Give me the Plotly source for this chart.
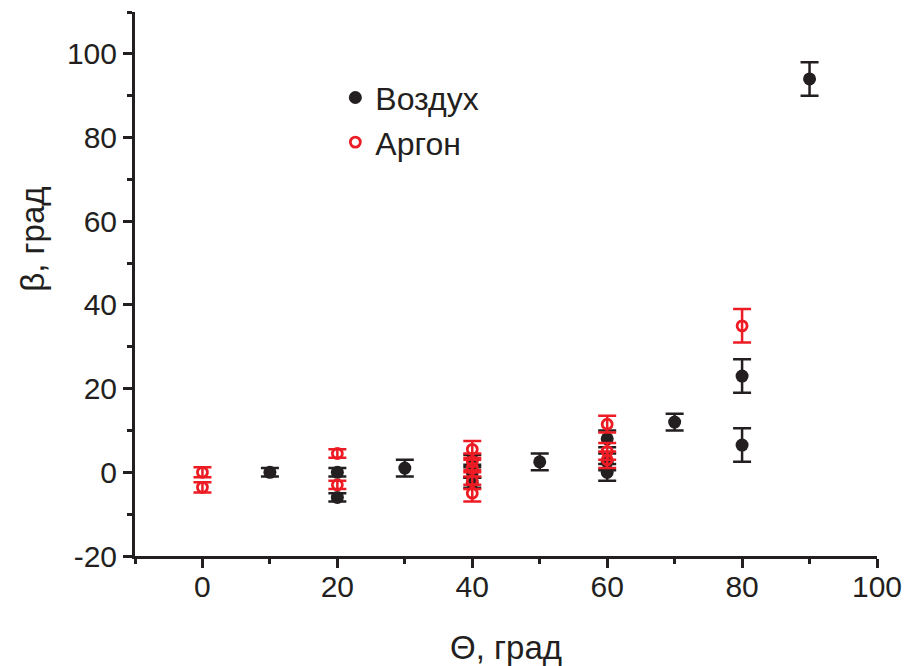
import plotly.graph_objects as go

# Воздух (air)
air_theta = [10, 20, 20, 30, 40, 40, 40, 50, 60, 60, 60, 70, 80, 80, 90]
air_beta = [0, 0, -6, 1, 3, 0, -2.5, 2.5, 8, 2.5, 0, 12, 23, 6.5, 94]
air_err = [1, 1, 1, 2, 1.2, 1.2, 1.2, 2, 2, 2, 2, 2, 4, 4, 4]

# Аргон (argon)
ar_theta = [0, 0, 20, 20, 40, 40, 40, 40, 40, 60, 60, 60, 80]
ar_beta = [0, -3.6, 4.5, -3, 5.5, 2.5, 1, -2, -5, 11.5, 5, 3, 35]
ar_err = [1.2, 1.2, 1, 1, 2, 2, 2, 2, 2, 2, 2, 2, 4]

x_ticks = [0, 20, 40, 60, 80, 100]
y_ticks = [-20, 0, 20, 40, 60, 80, 100]

FONT = "Liberation Sans, Arial, sans-serif"
INK = "#231f20"

fig = go.Figure()
fig.add_trace(go.Scatter(
    x=air_theta, y=air_beta, mode="markers", name="Воздух",
    marker=dict(symbol="circle", size=13, color=INK),
    error_y=dict(type="data", array=air_err, visible=True, color=INK,
                 thickness=2.5, width=9),
))
fig.add_trace(go.Scatter(
    x=ar_theta, y=ar_beta, mode="markers", name="Аргон",
    marker=dict(symbol="circle-open", size=10, color="#ed1c24",
                line=dict(width=2.8, color="#ed1c24")),
    error_y=dict(type="data", array=ar_err, visible=True, color="#ed1c24",
                 thickness=2.5, width=9),
))

axis_common = dict(
    showline=True, linewidth=3, linecolor=INK, mirror=False,
    ticks="outside", ticklen=9, tickwidth=3, tickcolor=INK,
    showgrid=False, zeroline=False, automargin=False,
    tickfont=dict(family=FONT, size=30, color=INK),
    minor=dict(ticks="outside", ticklen=5, tickwidth=3, tickcolor=INK, dtick=10, showgrid=False),
)

fig.update_layout(
    width=904, height=666,
    margin=dict(l=135, r=27, t=12, b=110),
    paper_bgcolor="white", plot_bgcolor="white",
    font=dict(family=FONT, color=INK),
    xaxis=dict(range=[-10, 100], tickvals=x_ticks, ticktext=[str(v) for v in x_ticks],
               ticklabelstandoff=-7,
               title=dict(text="Θ, град", font=dict(family=FONT, size=33), standoff=35),
               **axis_common),
    yaxis=dict(range=[-20, 110], tickvals=y_ticks, ticktext=[str(v) for v in y_ticks],
               **axis_common),
    legend=dict(x=0.27, y=0.893, xanchor="left", yanchor="top",
                font=dict(family=FONT, size=32, color=INK),
                bgcolor="rgba(0,0,0,0)", itemwidth=30, tracegroupgap=0),
    showlegend=True,
    annotations=[dict(text="β, град", textangle=-90, xref="paper", yref="paper",
                      x=-0.1375, y=0.583, xanchor="center", yanchor="middle",
                      showarrow=False, font=dict(family=FONT, size=33, color=INK))],
)

fig.write_html("out.html")
